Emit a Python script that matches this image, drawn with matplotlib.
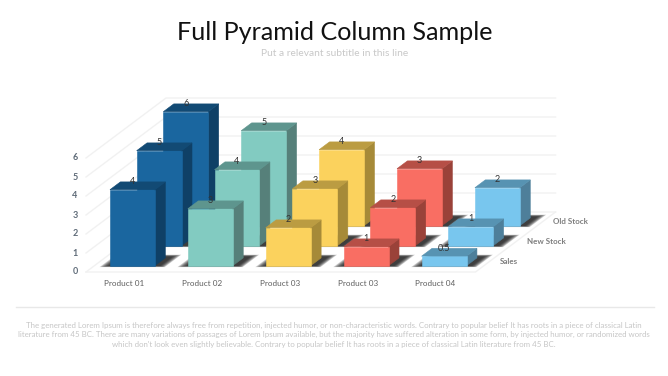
import matplotlib
matplotlib.use("Agg")
import matplotlib.pyplot as plt
from matplotlib.patches import Polygon

# datos
productos = ["Product 01", "Product 02", "Product 03", "Product 03", "Product 04"]
series = ["Sales", "New Stock", "Old Stock"]
sales = [4, 3, 2, 1, 0.5]
new_stock = [5, 4, 3, 2, 1]
old_stock = [6, 5, 4, 3, 2]
valores = [sales, new_stock, old_stock]
niveles = [0, 1, 2, 3, 4, 5, 6]

# frente, tapa, lado por producto
colores = [
    ("#1A669F", "#124A74", "#0F4066"),
    ("#82CBC1", "#5E958E", "#56807A"),
    ("#FBD25D", "#BB9C42", "#A68A38"),
    ("#F96E63", "#B64F46", "#9A4239"),
    ("#78C6EE", "#5793B2", "#4E7F9A"),
]

plt.rcParams['font.family'] = ['Lato', 'DejaVu Sans']

# proyeccion oblicua: la figura entera en pixeles
X0, Y0 = 86, 272
PASO_C, PASO_S_X, PASO_S_Y, UNIDAD = 77.9, 26.67, 20, 19


def proy(c, s, v=0):
    return (X0 + c * PASO_C + s * PASO_S_X, Y0 - s * PASO_S_Y - v * UNIDAD)


fig = plt.figure(figsize=(6.68, 3.76), dpi=100)
ax = fig.add_axes([0, 0, 1, 1])
ax.set_xlim(0, 668)
ax.set_ylim(376, 0)
ax.axis('off')

# paredes y rejilla
n_c, n_s = len(productos), len(series)
gris = "#F1F1F1"
for n in niveles:
    a, b, d = proy(0, 0, n), proy(0, n_s, n), proy(n_c, n_s, n)
    ax.plot([a[0], b[0], d[0]], [a[1], b[1], d[1]], color=gris, lw=1, zorder=1)
esq = [proy(0, 0), proy(n_c, 0), proy(n_c, n_s)]
ax.plot([p[0] for p in esq], [p[1] for p in esq], color=gris, lw=1, zorder=1)

M_C, M_S, ANCHO, FONDO = 0.2, 0.315, 0.577, 0.39
z = 2
for s in range(n_s - 1, -1, -1):
    for c in range(n_c):
        v = valores[s][c]
        c1, c2 = c + M_C, c + M_C + ANCHO
        s1, s2 = s + M_S, s + M_S + FONDO
        frente, tapa, lado = colores[c]

        # sombra difusa en el suelo
        for k in range(8):
            e = 1 - k / 8
            sx1, sx2 = c1 - 0.11 * e, c2 + 0.06 + 0.09 * e
            sy1, sy2 = s1 - 0.07 * e, s2 + 0.05 + 0.11 * e
            sombra = [proy(sx1, sy1), proy(sx2, sy1), proy(sx2, sy2), proy(sx1, sy2)]
            ax.add_patch(Polygon(sombra, closed=True, fc="#1A1A1A", ec="none", alpha=0.2, zorder=z))
        z += 1

        ax.add_patch(Polygon([proy(c2, s1), proy(c2, s2), proy(c2, s2, v), proy(c2, s1, v)],
                             closed=True, fc=lado, ec=lado, lw=0.4, zorder=z))
        ax.add_patch(Polygon([proy(c1, s1, v), proy(c2, s1, v), proy(c2, s2, v), proy(c1, s2, v)],
                             closed=True, fc=tapa, ec=tapa, lw=0.4, zorder=z))
        ax.add_patch(Polygon([proy(c1, s1), proy(c2, s1), proy(c2, s1, v), proy(c1, s1, v)],
                             closed=True, fc=frente, ec=frente, lw=0.4, zorder=z))
        z += 1
        x, y = proy((c1 + c2) / 2, s1, v)
        ax.text(x, y - 8, f"{v:g}", ha='center', va='center', fontsize=6.5, color="#333333", zorder=100)

# ejes
for n in niveles:
    ax.text(75, proy(0, 0, n)[1], str(n), ha='center', va='center', fontsize=6.5,
            color="#5F6B78", fontweight='bold')
for c, nombre in enumerate(productos):
    ax.text(proy(c + 0.5, 0)[0] - 1, 283, nombre, ha='center', va='center', fontsize=5.9, color="#5F5F5F")
for s, nombre in enumerate(series):
    x, y = proy(n_c, s + 0.5)
    ax.text(x + 11, y - 0.5, nombre, ha='left', va='center', fontsize=5.75, color="#7F7F7F", fontweight='bold')

# titulos
ax.text(334.5, 33, "Full Pyramid Column Sample", ha='center', va='center', fontsize=18.1, color="#111111")
ax.text(335, 54, "Put a relevant subtitle in this line", ha='center', va='center', fontsize=7.4, color="#C8C8C8")

ax.plot([16, 654], [307, 307], color="#E8E8E8", lw=1)
pie = [
    "The generated Lorem Ipsum is therefore always free from repetition, injected humor, or non-characteristic words. Contrary to popular belief It has roots in a piece of classical Latin",
    "literature from 45 BC. There are many variations of passages of Lorem Ipsum available, but the majority have suffered alteration in some form, by injected humor, or randomized words",
    "which don't look even slightly believable. Contrary to popular belief It has roots in a piece of classical Latin literature from 45 BC.",
]
for i, linea in enumerate(pie):
    ax.text(334, 325 + i * 9.7, linea, ha='center', va='center', fontsize=5.67, color="#C6C6C6")

fig.savefig("out.png", dpi=100)
